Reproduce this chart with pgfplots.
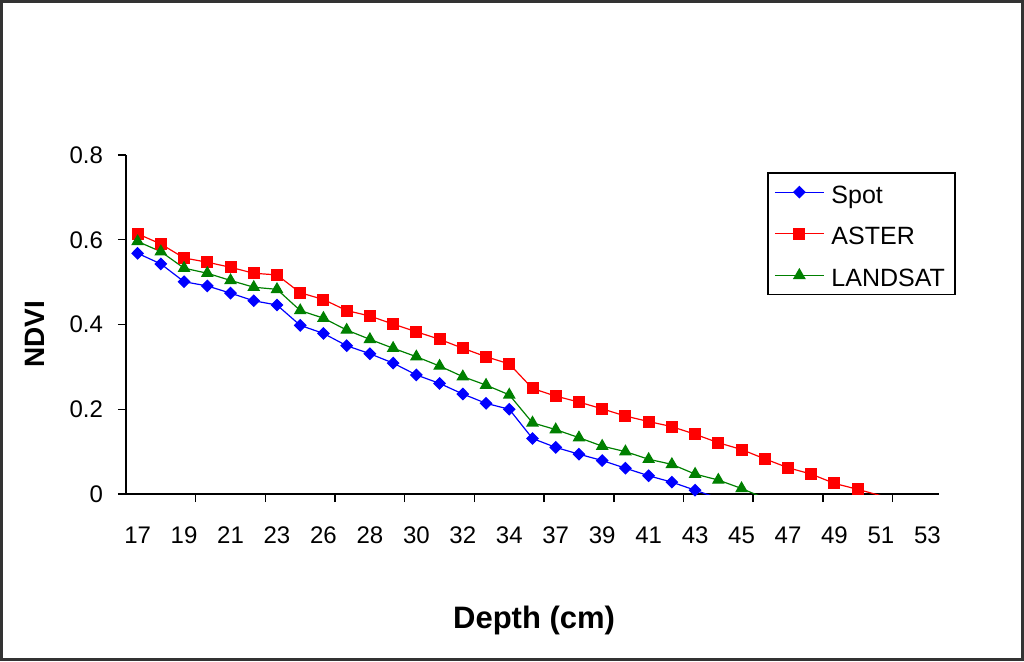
\documentclass[border=0pt]{standalone}
\usepackage{pgfplots}
\pgfplotsset{compat=1.18}
\usepackage{fontspec}
\setmainfont{Liberation Sans}
\pgfplotstableread{
i spot aster landsat
0 0.568 0.614 0.596
1 0.543 0.590 0.572
2 0.501 0.557 0.533
3 0.491 0.547 0.521
4 0.474 0.535 0.504
5 0.456 0.521 0.488
6 0.446 0.517 0.483
7 0.398 0.475 0.433
8 0.379 0.459 0.415
9 0.350 0.433 0.387
10 0.331 0.420 0.365
11 0.309 0.401 0.344
12 0.281 0.383 0.324
13 0.261 0.365 0.302
14 0.236 0.344 0.277
15 0.214 0.324 0.257
16 0.200 0.307 0.234
17 0.131 0.249 0.168
18 0.110 0.231 0.152
19 0.094 0.217 0.133
20 0.079 0.201 0.113
21 0.061 0.184 0.100
22 0.043 0.171 0.082
23 0.028 0.159 0.070
24 0.009 0.141 0.047
25 -0.010 0.121 0.033
26 nan 0.105 0.013
27 nan 0.083 -0.010
28 nan 0.062 nan
29 nan 0.047 nan
30 nan 0.025 nan
31 nan 0.011 nan
32 nan -0.004 nan
33 nan -0.020 nan
}\datatable
\definecolor{xlgreen}{RGB}{0,128,0}
\begin{document}
\begin{tikzpicture}
\path[use as bounding box] (0,0) rectangle (512pt,330.5pt);
\draw[line width=1.3pt, black!80] (0.65pt,0.65pt) rectangle (511.35pt,329.85pt);
\begin{axis}[
  at={(63pt,83.5pt)}, anchor=south west,
  width=406.5pt, height=169.5pt, scale only axis,
  xmin=-0.5, xmax=34.5, ymin=0, ymax=0.8,
  axis lines=left, axis line style={-, line width=0.7pt, black},
  tick align=outside,
  major tick length=4pt, minor tick length=4pt,
  tick style={line width=0.7pt, black},
  xtick={0,2,...,34},
  xticklabels={17,19,21,23,26,28,30,32,34,37,39,41,43,45,47,49,51,53},
  every major x tick/.append style={draw=none},
  minor xtick={2.5,5.5,...,32.5},
  ytick={0,0.2,0.4,0.6,0.8},
  yticklabels={0,0.2,0.4,0.6,0.8},
  tick label style={font=\fontsize{12}{14}\selectfont},
  xticklabel style={yshift=-9pt},
  yticklabel style={xshift=-4pt},
  xlabel={Depth (cm)},
  ylabel={NDVI},
  xlabel style={font=\bfseries\fontsize{15.5}{18}\selectfont, at={(axis description cs:0.502,-0.372)}, anchor=center},
  ylabel style={font=\bfseries\fontsize{14}{16}\selectfont, at={(axis description cs:-0.112,0.472)}, anchor=center, rotate=0},
  legend style={at={(0.789,0.949)}, anchor=north west, draw=black, line width=0.8pt,
    font=\fontsize{12.5}{15}\selectfont, row sep=4.8pt, inner xsep=3pt, inner ysep=1.5pt,
    nodes={inner sep=2pt, text height=11.5pt, text depth=0.5pt}},
  legend cell align=left,
  legend image code/.code={
    \draw[#1, mark=none] (0pt,0pt) -- (24.5pt,0pt);
    \draw[#1] plot coordinates {(12.25pt,0pt)};
    \path (26pt,0pt);
  },
]
\addplot[blue, line width=0.6pt, mark=diamond*, mark size=2.8pt, mark options={xscale=1.33, solid}, mark indices={1,...,25}] table[x=i, y=spot] {\datatable};
\addlegendentry{Spot}
\addplot[red, line width=0.6pt, mark=square*, mark size=2.7pt, mark options={solid}, mark indices={1,...,32}] table[x=i, y=aster] {\datatable};
\addlegendentry{ASTER}
\addplot[xlgreen, line width=0.6pt, mark=triangle*, mark size=3.1pt, mark options={solid}, mark indices={1,...,27}] table[x=i, y=landsat] {\datatable};
\addlegendentry{LANDSAT}
\end{axis}
\end{tikzpicture}
\end{document}
